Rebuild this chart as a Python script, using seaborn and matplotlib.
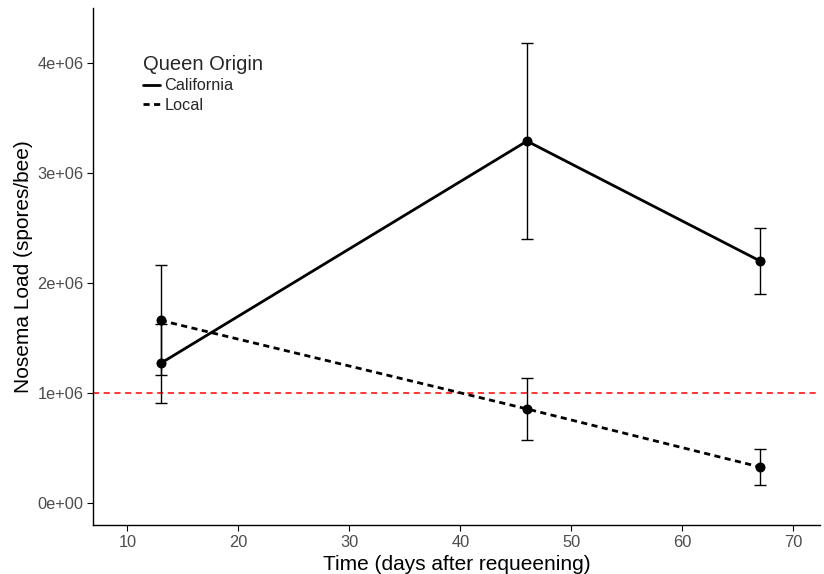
import matplotlib
matplotlib.use("Agg")
import matplotlib.pyplot as plt
import seaborn as sns
import pandas as pd
from matplotlib.lines import Line2D

days = [13, 46, 67]
california = [1.27e6, 3.29e6, 2.20e6]
california_se = [0.36e6, 0.89e6, 0.30e6]
local = [1.66e6, 0.855e6, 0.327e6]
local_se = [0.50e6, 0.28e6, 0.16e6]
origins = ["California", "Local"]
threshold = 1e6
y_ticks = [0, 1e6, 2e6, 3e6, 4e6]
y_labels = ["0e+00", "1e+06", "2e+06", "3e+06", "4e+06"]
x_ticks = [10, 20, 30, 40, 50, 60, 70]

df = pd.DataFrame({
    "day": days * 2,
    "load": california + local,
    "se": california_se + local_se,
    "Queen Origin": [origins[0]] * 3 + [origins[1]] * 3,
})

sns.set_style("white")
plt.rcParams["font.family"] = ["Liberation Sans", "DejaVu Sans"]

fig = plt.figure(figsize=(8.24, 5.74), dpi=100)
ax = fig.add_axes([93 / 824, 1 - 525 / 574, (820 - 93) / 824, (525 - 8) / 574])

ax.axhline(threshold, color="#FF0000", linestyle=(0, (4, 3)), linewidth=1.1, zorder=1)

for origin, vals, errs in [(origins[0], california, california_se), (origins[1], local, local_se)]:
    ax.errorbar(days, vals, yerr=errs, fmt="none", ecolor="black", elinewidth=1.0,
                capsize=4, capthick=1.0, zorder=2)

sns.lineplot(data=df, x="day", y="load", style="Queen Origin",
             dashes={"California": "", "Local": (2.2, 1.6)},
             color="black", linewidth=2.0, ax=ax, legend=False, zorder=3)
ax.scatter(df["day"], df["load"], s=52, color="black", zorder=4, linewidths=0)

ax.set_xlim(6.9, 72.4)
ax.set_ylim(-0.2e6, 4.5e6)
ax.set_xticks(x_ticks)
ax.set_yticks(y_ticks)
ax.set_yticklabels(y_labels)
ax.tick_params(axis="both", color="black", labelcolor="#4D4D4D", labelsize=11.8,
               length=4, width=0.8, direction="out", bottom=True, left=True, pad=3)

for s in ["top", "right"]:
    ax.spines[s].set_visible(False)
for s in ["left", "bottom"]:
    ax.spines[s].set_color("black")
    ax.spines[s].set_linewidth(1.0)

ax.set_xlabel("Time (days after requeening)", fontsize=15, color="black", labelpad=3.5)
ax.set_ylabel("Nosema Load (spores/bee)", fontsize=15, color="black", labelpad=3)

handles = [Line2D([0], [0], color="black", linewidth=2.0, linestyle="-"),
           Line2D([0], [0], color="black", linewidth=2.0, linestyle=(0, (2.2, 1.6)))]
leg = ax.legend(handles, origins, title="Queen Origin", loc="upper left",
                bbox_to_anchor=(0.058, 0.924), frameon=False, fontsize=11.7,
                title_fontsize=14.5, handlelength=1.0, handletextpad=0.3,
                labelspacing=0.25, borderpad=0)
leg._legend_box.align = "left"

fig.savefig("out.png", dpi=100)
